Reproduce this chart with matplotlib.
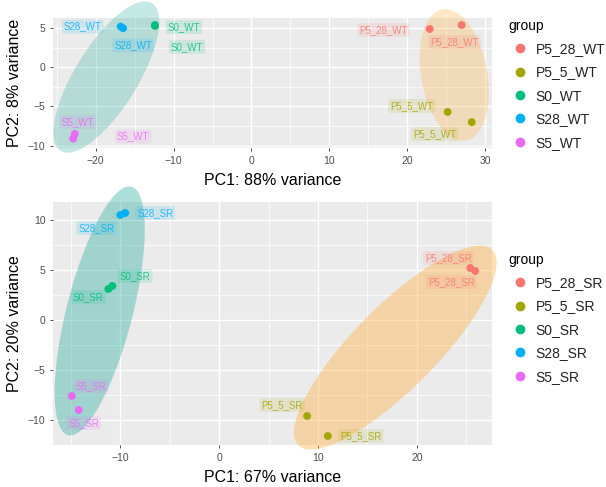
import numpy as np
import matplotlib
matplotlib.use("Agg")
import matplotlib.pyplot as plt
from matplotlib.patches import Polygon
from matplotlib.lines import Line2D

plt.rcParams['font.family'] = ['Liberation Sans', 'DejaVu Sans']

# ---- WT samples ----
wt_groups = ["P5_28_WT", "P5_5_WT", "S0_WT", "S28_WT", "S5_WT"]
wt_sample_group = ["P5_28_WT", "P5_28_WT", "P5_5_WT", "P5_5_WT",
                   "S0_WT", "S0_WT", "S28_WT", "S28_WT", "S5_WT", "S5_WT"]
wt_pc1 = [22.9, 27.0, 25.2, 28.3, -12.4, -12.4, -16.8, -16.5, -22.7, -22.9]
wt_pc2 = [4.9, 5.4, -5.7, -7.0, 5.4, 5.3, 5.2, 5.0, -8.5, -9.1]
wt_condition = ["P5", "P5", "P5", "P5", "S", "S", "S", "S", "S", "S"]
wt_var = (88, 8)

# ---- SR samples ----
sr_groups = ["P5_28_SR", "P5_5_SR", "S0_SR", "S28_SR", "S5_SR"]
sr_sample_group = ["P5_28_SR", "P5_28_SR", "P5_5_SR", "P5_5_SR",
                   "S0_SR", "S0_SR", "S28_SR", "S28_SR", "S5_SR", "S5_SR"]
sr_pc1 = [25.4, 25.9, 8.9, 11.0, -10.8, -11.2, -9.5, -10.0, -14.9, -14.2]
sr_pc2 = [5.2, 4.9, -9.6, -11.6, 3.4, 3.1, 10.7, 10.5, -7.6, -9.0]
sr_condition = ["P5", "P5", "P5", "P5", "S", "S", "S", "S", "S", "S"]
sr_var = (67, 20)

group_colors = ["#F8766D", "#A3A500", "#00BF7D", "#00B0F6", "#E76BF3"]
cond_fill = {"P5": "#FFB347", "S": "#3CB4A8"}

# label offsets in pixels (dx right, dy down) for each sample, repel-style
wt_label_off = [(-46, 1), (-7, 17), (-36, -6), (-37, 12), (29, 2), (32, 21),
                (-38, 0), (10, 17), (3, -12), (60, -2)]
sr_label_off = [(-22, -10), (-24, 11), (-25, -11), (33, 0), (23, -10), (-20, 8),
                (30, 0), (-24, 13), (19, -10), (5, 13)]

W, H = 606, 487
fig = plt.figure(figsize=(W / 100, H / 100), dpi=100)


def px_axes(l, t, r, b):
    return fig.add_axes([l / W, 1 - b / H, (r - l) / W, (b - t) / H])


def style_axes(ax, xlim, ylim, xt, yt, xminor, yminor, xlabel, ylabel):
    ax.set_facecolor("#EBEBEB")
    ax.set_xlim(*xlim)
    ax.set_ylim(*ylim)
    ax.set_xticks(xt)
    ax.set_yticks(yt)
    ax.set_xticks(xminor, minor=True)
    ax.set_yticks(yminor, minor=True)
    ax.set_xticklabels([str(v).replace("-", "\u2212") for v in xt])
    ax.set_yticklabels([str(v).replace("-", "\u2212") for v in yt])
    ax.grid(True, which="major", color="white", lw=1.0)
    ax.grid(True, which="minor", color="white", lw=0.5)
    ax.set_axisbelow(True)
    for s in ax.spines.values():
        s.set_visible(False)
    ax.tick_params(which="major", length=2.5, width=0.6, color="#333333",
                   labelsize=7.5, labelcolor="#4D4D4D", pad=3)
    ax.tick_params(which="minor", length=0)
    ax.set_xlabel(xlabel, fontsize=11.5, labelpad=5)
    ax.set_ylabel(ylabel, fontsize=11.5, labelpad=4)


def draw_ellipses(ax, x, y, cond, margin_px, alpha):
    pts = ax.transData.transform(np.column_stack([x, y]))
    cond = np.array(cond)
    for c in ["S", "P5"]:
        p = pts[cond == c]
        mu = p.mean(axis=0)
        _, vecs = np.linalg.eigh(np.cov((p - mu).T))
        proj = (p - mu) @ vecs
        lo, hi = proj.min(axis=0), proj.max(axis=0)
        centre = mu + ((lo + hi) / 2) @ vecs.T
        semi = (hi - lo) / 2 + margin_px
        t = np.linspace(0, 2 * np.pi, 200)
        circ = np.column_stack([semi[0] * np.cos(t), semi[1] * np.sin(t)])
        poly = circ @ vecs.T + centre
        poly_data = ax.transData.inverted().transform(poly)
        ax.add_patch(Polygon(poly_data, closed=True, fc=cond_fill[c],
                             ec="none", alpha=alpha, zorder=1, clip_on=False))


def draw_points(ax, x, y, sgroup, groups, offs):
    cmap = dict(zip(groups, group_colors))
    for xi, yi, g, (dx, dy) in zip(x, y, sgroup, offs):
        col = cmap[g]
        ax.scatter([xi], [yi], s=32, color=col, zorder=4, edgecolors="none")
        ax.annotate(g, (xi, yi), xytext=(dx * 0.72, -dy * 0.72),
                    textcoords="offset points", ha="center", va="center",
                    fontsize=7, color=col, alpha=0.8, zorder=3,
                    bbox=dict(boxstyle="round,pad=0.2", fc=col, ec="none",
                              alpha=0.13))


def draw_legend(ax, groups, x_px, y_px):
    handles = [Line2D([], [], marker="o", ls="none", ms=6, color=c)
               for c in group_colors]
    leg = ax.legend(handles, groups, title="group", loc="upper left",
                    bbox_to_anchor=(x_px / W, 1 - y_px / H),
                    bbox_transform=fig.transFigure, frameon=False,
                    fontsize=10, title_fontsize=10, labelspacing=0.68,
                    handletextpad=0.35, handlelength=1.6, borderaxespad=0,
                    alignment="left")
    for t in leg.get_texts():
        t.set_color("#222222")
    return leg


# top panel (WT)
ax1 = px_axes(53, 18, 492, 148)
style_axes(ax1, (-25.5, 30.9), (-10.3, 6.3),
           [-20, -10, 0, 10, 20, 30], [-10, -5, 0, 5],
           [-25, -15, -5, 5, 15, 25], [-7.5, -2.5, 2.5],
           f"PC1: {wt_var[0]}% variance", f"PC2: {wt_var[1]}% variance")
draw_ellipses(ax1, wt_pc1, wt_pc2, wt_condition, 17, 0.3)
draw_points(ax1, wt_pc1, wt_pc2, wt_sample_group, wt_groups, wt_label_off)
draw_legend(ax1, wt_groups, 503, 13)

# bottom panel (SR)
ax2 = px_axes(53, 202, 492, 445)
style_axes(ax2, (-16.8, 27.6), (-12.3, 11.8),
           [-10, 0, 10, 20], [-10, -5, 0, 5, 10],
           [-15, -5, 5, 15, 25], [-12.5, -7.5, -2.5, 2.5, 7.5],
           f"PC1: {sr_var[0]}% variance", f"PC2: {sr_var[1]}% variance")
draw_ellipses(ax2, sr_pc1, sr_pc2, sr_condition, 27, 0.42)
draw_points(ax2, sr_pc1, sr_pc2, sr_sample_group, sr_groups, sr_label_off)
draw_legend(ax2, sr_groups, 503, 247)

fig.savefig("out.png", dpi=100)
